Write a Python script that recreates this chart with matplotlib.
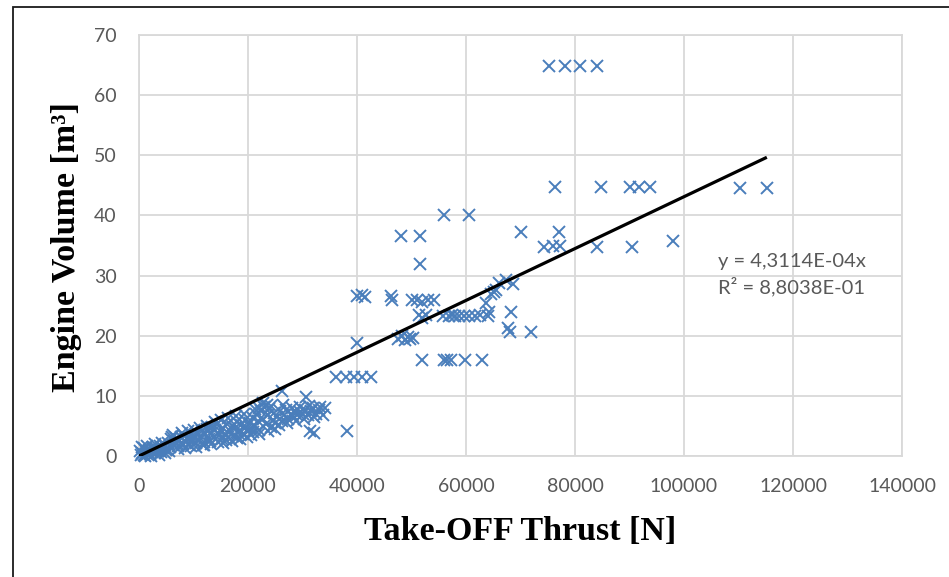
import matplotlib
matplotlib.use("Agg")
import matplotlib.pyplot as plt
from matplotlib.patches import Rectangle

# ---------------- data ----------------
thrust_n = [
    # dense cluster 0-5 kN
    300, 600, 900, 1200, 1500, 1800, 2000, 2300, 2600, 2900, 3200, 3500, 3800, 4100, 4400, 4700, 5000, 200, 1000, 2500,
    500, 1500, 2200, 3000, 3600, 4200, 4800, 1100,
    # 5-10 kN
    5300, 5600, 5900, 6200, 6500, 6800, 7100, 7400, 7700, 8000, 8300, 8600, 8900, 9200, 9500, 9800, 6000, 7000,
    5500, 6300, 7200, 7800, 8500, 9000, 9600, 10000,
    # 10-15 kN
    10100, 10400, 10700, 11000, 11300, 11600, 11900, 12200, 12500, 12800, 13100, 13400, 13700, 14000, 14300, 14600, 14900, 12000, 13000,
    10500, 11200, 11800, 12400, 13300, 13900, 14500, 15000,
    # 15-20 kN
    15200, 15500, 15800, 16100, 16400, 16700, 17000, 17300, 17600, 17900, 18200, 18500, 18800, 19100, 19400, 19700, 20000, 16000, 18000,
    15400, 16300, 17100, 17800, 18600, 19300, 19900,
    # 20-25 kN
    20300, 20600, 20900, 21200, 21500, 21800, 22100, 22400, 22700, 23000, 23300, 23600, 23900, 24200, 24500, 24800, 22000, 23500, 21000, 25000,
    20500, 21300, 22000, 22800, 23600, 24300, 24900,
    # 25-35 kN
    25400, 25800, 26200, 26600, 27000, 27400, 27800, 28200, 28600, 29000, 29500, 30000, 30500, 31000, 31500, 32000, 32500, 33000, 34200,
    25600, 26400, 27200, 28000, 28800, 29600, 30300, 31200, 32200, 33300, 33800,
    # isolated small engines
    26200, 30700, 31300, 32200, 38200,
    # 13 m3 row
    36200, 37900, 39400, 41000, 42500,
    # ~19-20 m3
    40000, 47500, 48200, 48800, 49300, 49800, 50300,
    # ~26-27 m3
    40000, 41000, 41500, 46300, 46500, 50100, 51100, 52000, 53000, 54100,
    # ~23 m3
    51400, 52000, 52600, 55800, 56800, 57400, 58000, 58800, 59600, 60600, 61600, 62600, 64000, 68300,
    # rising group along trend
    63700, 64200, 64600, 65200, 65500, 66100, 67400, 68600,
    # ~21 m3
    67700, 68100, 72000,
    # 16 m3 row
    52000, 56000, 56600, 57300, 59900, 63000,
    # ~32-40 m3
    51500, 48000, 51500, 70100, 77000, 74400, 75900, 77200, 84000, 90400, 98000, 55900, 60500,
    # ~45 m3
    76400, 84700, 90000, 91700, 93700, 110200, 115200,
    # 65 m3
    75200, 78200, 80900, 84000,
]

volume_m3 = [
    0.2, 0.5, 0.1, 0.8, 0.4, 1.0, 0.3, 0.7, 1.2, 0.5, 1.4, 0.9, 1.6, 0.6, 1.3, 1.9, 1.0, 0.9, 1.3, 1.5,
    1.5, 1.6, 0.0, 2.0, 0.2, 2.2, 0.5, 0.0,
    2.2, 1.5, 2.8, 1.8, 2.5, 3.0, 1.7, 2.6, 3.1, 2.0, 3.4, 2.4, 3.0, 1.9, 3.6, 2.7, 3.1, 2.2,
    0.8, 3.5, 1.2, 3.8, 1.4, 4.1, 1.6, 4.3,
    3.1, 2.2, 3.8, 2.6, 3.3, 4.2, 2.4, 3.6, 4.5, 2.9, 3.9, 4.8, 3.2, 4.4, 5.3, 3.5, 4.1, 1.9, 2.5,
    1.5, 4.6, 1.8, 5.0, 2.0, 5.6, 2.3, 6.0,
    2.8, 4.6, 3.6, 5.4, 3.1, 4.2, 5.0, 3.4, 4.7, 5.6, 3.9, 4.4, 5.2, 3.7, 6.0, 4.9, 4.2, 2.6, 3.0,
    2.2, 6.3, 2.5, 6.6, 2.8, 7.0, 3.2,
    5.5, 4.6, 6.3, 5.0, 7.0, 5.8, 4.4, 7.5, 6.2, 8.2, 5.3, 6.8, 7.8, 4.8, 6.0, 7.2, 8.0, 8.5, 4.0, 5.5,
    3.5, 7.8, 3.6, 8.8, 4.2, 8.3, 4.5,
    6.5, 7.4, 5.8, 6.9, 7.6, 6.2, 7.0, 6.6, 7.5, 6.9, 7.3, 7.0, 7.7, 6.8, 7.5, 7.9, 7.0, 7.6, 7.9,
    5.2, 8.4, 5.5, 8.0, 5.8, 8.2, 6.2, 8.3, 6.5, 8.2, 6.9,
    10.8, 9.8, 4.2, 3.9, 4.2,
    13.1, 13.1, 13.1, 13.1, 13.1,
    18.8, 19.5, 19.9, 19.3, 19.8, 19.4, 19.6,
    26.6, 26.8, 26.4, 26.6, 26.0, 26.0, 26.0, 25.6, 26.0, 26.0,
    23.4, 22.9, 23.5, 23.3, 23.2, 23.4, 23.2, 23.3, 23.3, 23.2, 23.3, 23.4, 23.3, 24.0,
    25.4, 24.0, 27.0, 27.2, 27.6, 28.8, 29.3, 28.6,
    21.3, 20.7, 20.6,
    15.9, 15.9, 15.9, 15.9, 15.9, 15.9,
    31.9, 36.6, 36.6, 37.2, 37.3, 34.7, 34.9, 35.0, 34.7, 34.7, 35.8, 40.1, 40.1,
    44.8, 44.8, 44.8, 44.8, 44.8, 44.6, 44.6,
    64.9, 64.9, 64.9, 64.9,
]

trend_slope = 4.3114e-4
trend_label = "y = 4,3114E-04x"
r2_label = "R² = 8,8038E-01"

x_ticks = [0, 20000, 40000, 60000, 80000, 100000, 120000, 140000]
y_ticks = [0, 10, 20, 30, 40, 50, 60, 70]

x_title = "Take-OFF Thrust [N]"
y_title = "Engine Volume [m³]"

# ---------------- figure ----------------
W, H = 949, 577
fig = plt.figure(figsize=(W / 100, H / 100), dpi=100)
fig.patch.set_facecolor("white")

# outer frame (left and top edges visible)
fig.add_artist(Rectangle((12.5 / W, -0.05), 1.2, 1 - 7 / H + 0.05,
                         transform=fig.transFigure, fill=False,
                         edgecolor="#1a1a1a", lw=1.3))

ax = fig.add_axes([139 / W, 1 - 456 / H, (902 - 139) / W, (456 - 35) / H])

grid_col = "#D9D9D9"
ax.set_xlim(0, 140000)
ax.set_ylim(0, 70)
ax.set_xticks(x_ticks)
ax.set_yticks(y_ticks)
ax.set_xticklabels([str(t) for t in x_ticks])
ax.set_yticklabels([str(t) for t in y_ticks])
ax.grid(True, color=grid_col, lw=1.3, zorder=0)
ax.set_axisbelow(True)
for s in ax.spines.values():
    s.set_color(grid_col)
    s.set_linewidth(1.3)

ax.tick_params(axis="both", length=0)
ax.tick_params(axis="x", pad=16)
ax.tick_params(axis="y", pad=16)
for lab in ax.get_xticklabels() + ax.get_yticklabels():
    lab.set_fontfamily(["Lato", "DejaVu Sans"])
    lab.set_fontsize(14)
    lab.set_color("#595959")

ax.plot(thrust_n, volume_m3, linestyle="none", marker="x", markersize=9,
        markeredgewidth=1.4, color="#4A7EBB", clip_on=False, zorder=3)

x_end = max(thrust_n)
ax.plot([0, x_end], [0, trend_slope * x_end], color="black", lw=2.3,
        solid_capstyle="butt", zorder=4)

ann_font = dict(family=["Lato", "DejaVu Sans"], size=14.5, color="#595959")
fig.text(718 / W, 1 - 262 / H, trend_label, ha="left", va="center", **ann_font)
fig.text(718 / W, 1 - 287 / H, r2_label, ha="left", va="center", **ann_font)

label_font = dict(family=["Liberation Serif", "DejaVu Serif"],
                  weight="bold", color="black")
fig.text(520.5 / W, 1 - 540 / H, x_title, ha="center", va="baseline",
         size=24.5, **label_font)
fig.text(67 / W, 1 - 247 / H, y_title, ha="center", va="center", rotation=90,
         size=24.5, **label_font)

fig.savefig("out.png", dpi=100, facecolor="white")
